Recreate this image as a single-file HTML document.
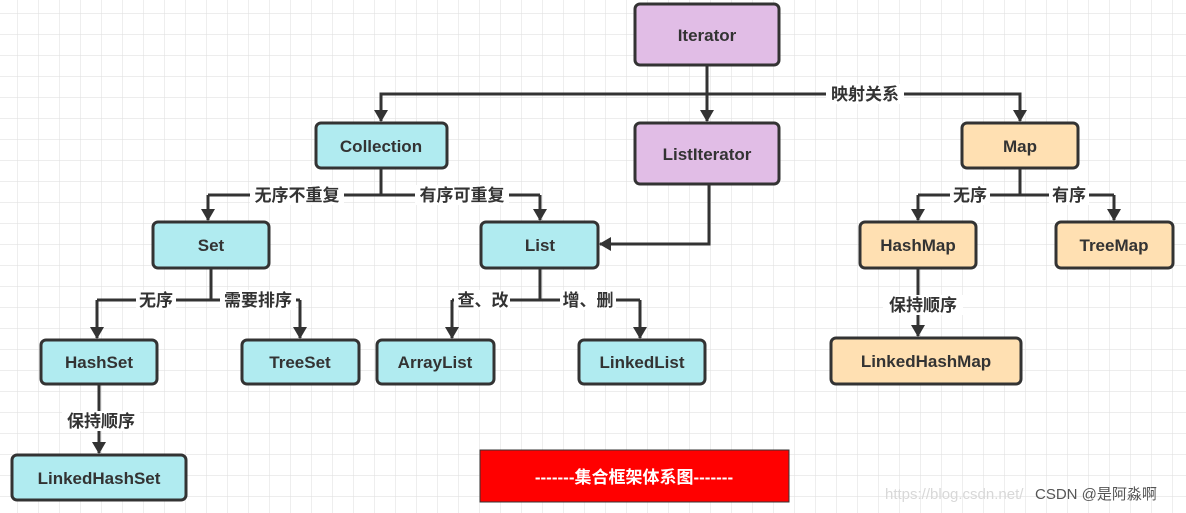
<!DOCTYPE html><html><head><meta charset="utf-8"><style>body{margin:0;background:#fff}svg{display:block}</style></head><body>
<svg width="1186" height="513" xmlns="http://www.w3.org/2000/svg" font-family="Liberation Sans, Noto Sans CJK SC, sans-serif">
<defs>
<pattern id="g" width="21" height="21" patternUnits="userSpaceOnUse" x="-3" y="-7"><path d="M21 0V21H0" fill="none" stroke="#e2e2e2" stroke-width="1.2"/></pattern>
<marker id="a" markerWidth="12" markerHeight="14" refX="11" refY="7" orient="auto" markerUnits="userSpaceOnUse"><path d="M0 0L12 7L0 14Z" fill="#333"/></marker>
</defs>
<rect width="1186" height="513" fill="url(#g)"/>
<g stroke="#333" stroke-width="3" fill="none">
<path d="M707 65V121" marker-end="url(#a)"/>
<path d="M381 120V94H1020V120" />
<path d="M381 94V121" marker-end="url(#a)"/><path d="M1020 94V121" marker-end="url(#a)"/>
<path d="M381 168V195"/><path d="M208 195H540"/><path d="M208 195V220" marker-end="url(#a)"/><path d="M540 195V220" marker-end="url(#a)"/>
<path d="M709 184V244H600" marker-end="url(#a)"/>
<path d="M211 268V300"/><path d="M97 300H300"/><path d="M97 300V338" marker-end="url(#a)"/><path d="M300 300V338" marker-end="url(#a)"/>
<path d="M540 268V300"/><path d="M452 300H640"/><path d="M452 300V338" marker-end="url(#a)"/><path d="M640 300V338" marker-end="url(#a)"/>
<path d="M1020 168V195"/><path d="M918 195H1114"/><path d="M918 195V220" marker-end="url(#a)"/><path d="M1114 195V220" marker-end="url(#a)"/>
<path d="M918 268V336" marker-end="url(#a)"/>
<path d="M99 384V453" marker-end="url(#a)"/>
</g>
<g font-size="17" fill="#333" text-anchor="middle" font-weight="bold">
<g fill="#fff" stroke="none">
<rect x="826" y="84" width="78" height="20"/><rect x="250" y="185" width="94" height="20"/><rect x="415" y="185" width="94" height="20"/>
<rect x="136" y="290" width="40" height="20"/><rect x="220" y="290" width="76" height="20"/><rect x="454" y="290" width="56" height="20"/><rect x="560" y="290" width="56" height="20"/>
<rect x="950" y="185" width="40" height="20"/><rect x="1049" y="185" width="40" height="20"/><rect x="883" y="295" width="80" height="20"/><rect x="62" y="411" width="78" height="20"/>
</g>
<text x="865" y="100">映射关系</text><text x="297" y="201">无序不重复</text><text x="462" y="201">有序可重复</text>
<text x="156" y="306">无序</text><text x="258" y="306">需要排序</text><text x="483" y="306">查、改</text><text x="588" y="306">增、删</text>
<text x="970" y="201">无序</text><text x="1069" y="201">有序</text><text x="923" y="311">保持顺序</text><text x="101" y="427">保持顺序</text>
</g>
<g stroke="#333" stroke-width="3">
<rect x="635" y="4" width="144" height="61" rx="5" fill="#e1bde6"/>
<rect x="635" y="123" width="144" height="61" rx="5" fill="#e1bde6"/>
<rect x="316" y="123" width="131" height="45" rx="5" fill="#b0ebf0"/>
<rect x="962" y="123" width="116" height="45" rx="5" fill="#ffe0b2"/>
<rect x="153" y="222" width="116" height="46" rx="5" fill="#b0ebf0"/>
<rect x="481" y="222" width="117" height="46" rx="5" fill="#b0ebf0"/>
<rect x="860" y="222" width="116" height="46" rx="5" fill="#ffe0b2"/>
<rect x="1056" y="222" width="117" height="46" rx="5" fill="#ffe0b2"/>
<rect x="41" y="340" width="116" height="44" rx="5" fill="#b0ebf0"/>
<rect x="242" y="340" width="117" height="44" rx="5" fill="#b0ebf0"/>
<rect x="377" y="340" width="117" height="44" rx="5" fill="#b0ebf0"/>
<rect x="579" y="340" width="126" height="44" rx="5" fill="#b0ebf0"/>
<rect x="831" y="338" width="190" height="46" rx="5" fill="#ffe0b2"/>
<rect x="12" y="455" width="174" height="45" rx="5" fill="#b0ebf0"/>
</g>
<rect x="480" y="450" width="309" height="52" fill="#ff0000" stroke="#333" stroke-width="1"/>
<g font-size="17" fill="#333" text-anchor="middle" font-weight="bold">
<text x="707" y="41">Iterator</text><text x="707" y="160">ListIterator</text><text x="381" y="152">Collection</text><text x="1020" y="152">Map</text>
<text x="211" y="251">Set</text><text x="540" y="251">List</text><text x="918" y="251">HashMap</text><text x="1114" y="251">TreeMap</text>
<text x="99" y="368">HashSet</text><text x="300" y="368">TreeSet</text><text x="435" y="368">ArrayList</text><text x="642" y="368">LinkedList</text>
<text x="926" y="367">LinkedHashMap</text><text x="99" y="484">LinkedHashSet</text>
<text x="634" y="483" fill="#fff">-------集合框架体系图-------</text>
</g>
<text x="885" y="499" font-size="15" fill="#d8d8d8">https://blog.csdn.net/</text>
<text x="1035" y="499" font-size="15" fill="#555">CSDN @是阿淼啊</text>
</svg></body></html>
